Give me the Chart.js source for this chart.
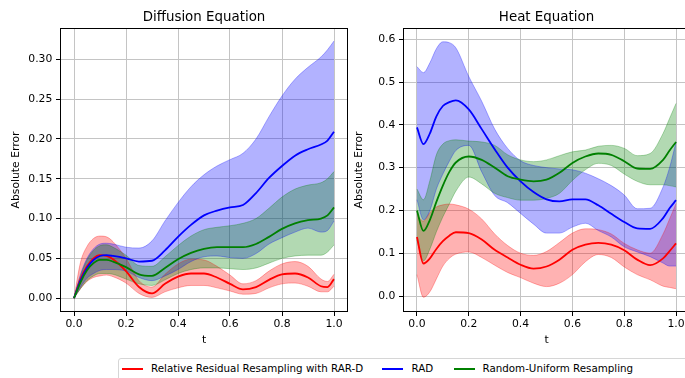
<!DOCTYPE html>
<html>
<head>
<meta charset="utf-8">
<script src="https://cdn.jsdelivr.net/npm/chart.js@4.4.1/dist/chart.umd.min.js"></script>
<style>
html,body{margin:0;padding:0;background:#fff;overflow:hidden;width:685px;height:378px;}
#wrap{position:relative;width:685px;height:378px;overflow:hidden;font-family:"DejaVu Sans",sans-serif;}
canvas{position:absolute;top:0;}
#c1{left:0;}
#c2{left:343px;}
#legend{position:absolute;left:118px;top:358px;width:620px;height:30px;border:1px solid #d6d6d6;border-radius:3px;background:#fff;box-sizing:border-box;}
.lg-line{position:absolute;top:8.5px;height:0;border-top:2px solid #000;}
.lg-text{position:absolute;top:3px;font-size:10.3px;line-height:13px;color:#000;white-space:nowrap;}
</style>
</head>
<body>
<div id="wrap">
  <canvas id="c1" width="350" height="352"></canvas>
  <canvas id="c2" width="352" height="352"></canvas>
  <div id="legend"></div>
</div>
<script>
// ---------------- data ----------------
const tGrid = [0, 0.025, 0.05, 0.075, 0.1, 0.125, 0.15, 0.2, 0.25, 0.3, 0.35, 0.4, 0.45, 0.5, 0.55, 0.6, 0.65, 0.7, 0.75, 0.8, 0.85, 0.9, 0.95, 0.975, 1.0];
const xTicks = [0, 0.2, 0.4, 0.6, 0.8, 1.0];
const diffYTicks = [0, 0.05, 0.10, 0.15, 0.20, 0.25, 0.30];
const heatYTicks = [0, 0.1, 0.2, 0.3, 0.4, 0.5, 0.6];
const seriesNames = ["Relative Residual Resampling with RAR-D", "RAD", "Random-Uniform Resampling"];
const chartTitles = ["Diffusion Equation", "Heat Equation"];

// Diffusion equation
const diffRarMean = [0, 0.024, 0.040, 0.050, 0.054, 0.053, 0.049, 0.034, 0.014, 0.006, 0.018, 0.027, 0.031, 0.031, 0.026, 0.018, 0.011, 0.014, 0.023, 0.030, 0.031, 0.026, 0.015, 0.014, 0.024];
const diffRarLow  = [0, 0.012, 0.021, 0.026, 0.028, 0.029, 0.027, 0.019, 0.006, 0.001, 0.008, 0.013, 0.016, 0.016, 0.013, 0.009, 0.005, 0.006, 0.013, 0.018, 0.019, 0.015, 0.008, 0.008, 0.015];
const diffRarHigh = [0, 0.045, 0.065, 0.075, 0.078, 0.077, 0.071, 0.050, 0.022, 0.014, 0.030, 0.043, 0.049, 0.048, 0.040, 0.029, 0.018, 0.022, 0.034, 0.043, 0.046, 0.040, 0.024, 0.021, 0.030];

const diffRadMean = [0, 0.022, 0.038, 0.048, 0.053, 0.054, 0.053, 0.050, 0.046, 0.047, 0.060, 0.077, 0.092, 0.104, 0.110, 0.114, 0.117, 0.132, 0.151, 0.166, 0.179, 0.187, 0.193, 0.198, 0.209];
const diffRadLow  = [0, 0.014, 0.025, 0.031, 0.035, 0.036, 0.036, 0.034, 0.026, 0.022, 0.028, 0.036, 0.046, 0.052, 0.053, 0.051, 0.050, 0.056, 0.068, 0.076, 0.083, 0.088, 0.083, 0.085, 0.097];
const diffRadHigh = [0, 0.030, 0.050, 0.062, 0.068, 0.069, 0.068, 0.064, 0.063, 0.072, 0.097, 0.120, 0.140, 0.155, 0.166, 0.174, 0.182, 0.200, 0.228, 0.254, 0.275, 0.290, 0.303, 0.312, 0.323];

const diffUniMean = [0, 0.020, 0.035, 0.044, 0.048, 0.048, 0.046, 0.039, 0.030, 0.028, 0.038, 0.049, 0.057, 0.062, 0.064, 0.064, 0.064, 0.068, 0.077, 0.087, 0.094, 0.098, 0.100, 0.104, 0.114];
const diffUniLow  = [0, 0.012, 0.022, 0.028, 0.031, 0.031, 0.030, 0.024, 0.018, 0.016, 0.023, 0.031, 0.036, 0.038, 0.038, 0.037, 0.036, 0.038, 0.044, 0.050, 0.053, 0.054, 0.054, 0.058, 0.067];
const diffUniHigh = [0, 0.028, 0.048, 0.060, 0.066, 0.067, 0.064, 0.054, 0.041, 0.040, 0.052, 0.066, 0.078, 0.086, 0.089, 0.091, 0.094, 0.100, 0.113, 0.127, 0.137, 0.142, 0.145, 0.150, 0.159];

// Heat equation
const heatRarMean = [0.138, 0.076, 0.088, 0.110, 0.128, 0.141, 0.149, 0.147, 0.132, 0.108, 0.090, 0.073, 0.064, 0.069, 0.085, 0.108, 0.120, 0.124, 0.120, 0.107, 0.085, 0.072, 0.088, 0.105, 0.123];
const heatRarLow  = [0.050, -0.003, 0.010, 0.040, 0.070, 0.088, 0.098, 0.103, 0.090, 0.072, 0.055, 0.043, 0.030, 0.022, 0.030, 0.050, 0.080, 0.097, 0.090, 0.068, 0.050, 0.038, 0.023, 0.020, 0.017];
const heatRarHigh = [0.190, 0.175, 0.195, 0.208, 0.213, 0.215, 0.213, 0.203, 0.180, 0.145, 0.118, 0.100, 0.095, 0.104, 0.125, 0.147, 0.157, 0.155, 0.145, 0.123, 0.108, 0.100, 0.145, 0.180, 0.216];

const heatRadMean = [0.394, 0.355, 0.380, 0.420, 0.444, 0.453, 0.457, 0.436, 0.390, 0.343, 0.300, 0.268, 0.243, 0.226, 0.221, 0.226, 0.226, 0.212, 0.192, 0.173, 0.158, 0.157, 0.182, 0.205, 0.224];
const heatRadLow  = [0.225, 0.178, 0.200, 0.250, 0.285, 0.315, 0.340, 0.352, 0.290, 0.235, 0.218, 0.193, 0.168, 0.147, 0.147, 0.161, 0.170, 0.153, 0.138, 0.115, 0.103, 0.092, 0.077, 0.070, 0.070];
const heatRadHigh = [0.536, 0.522, 0.545, 0.578, 0.594, 0.592, 0.580, 0.513, 0.455, 0.390, 0.345, 0.316, 0.305, 0.300, 0.297, 0.295, 0.287, 0.274, 0.258, 0.236, 0.204, 0.205, 0.255, 0.300, 0.360];

const heatUniMean = [0.200, 0.152, 0.178, 0.220, 0.258, 0.290, 0.312, 0.326, 0.318, 0.300, 0.280, 0.272, 0.268, 0.272, 0.288, 0.311, 0.326, 0.333, 0.330, 0.315, 0.298, 0.297, 0.318, 0.340, 0.360];
const heatUniLow  = [0.130, 0.082, 0.110, 0.150, 0.185, 0.215, 0.245, 0.278, 0.262, 0.240, 0.230, 0.224, 0.224, 0.228, 0.240, 0.270, 0.295, 0.310, 0.305, 0.285, 0.268, 0.260, 0.260, 0.258, 0.255];
const heatUniHigh = [0.250, 0.225, 0.270, 0.330, 0.355, 0.363, 0.365, 0.362, 0.360, 0.352, 0.330, 0.318, 0.314, 0.318, 0.328, 0.337, 0.341, 0.350, 0.352, 0.345, 0.328, 0.333, 0.380, 0.415, 0.450];

// ---------------- styling ----------------
const FONT = "DejaVu Sans";
const lineColors = ["#ff0000", "#0000ff", "#008000"];
const fillColors = ["rgba(255,0,0,0.3)", "rgba(0,0,255,0.3)", "rgba(0,128,0,0.3)"];
const gridColor = "#c4c4c4";

function pts(arr) { return tGrid.map((t, i) => ({x: t, y: arr[i]})); }

const framePlugin = {
  id: 'frame',
  afterDatasetsDraw(chart) {
    const {ctx, chartArea: a} = chart;
    ctx.save();
    ctx.strokeStyle = '#000';
    ctx.lineWidth = 1;
    ctx.strokeRect(Math.round(a.left) - 0.5, Math.round(a.top) - 0.5, Math.round(a.right - a.left) + 1, Math.round(a.bottom - a.top) + 1);
    ctx.restore();
  }
};

function makeChart(id, title, series, yMin, yMax, yTicks, yDigits, rightPad) {
  const datasets = [];
  // bands: green first (drawn on top), then blue, then red (drawn at bottom)
  [2, 1, 0].forEach(k => {
    const [mean, low, high] = series[k];
    datasets.push({data: pts(low), borderColor: fillColors[k], borderWidth: 1, backgroundColor: fillColors[k], fill: false, order: 10, pointRadius: 0});
    datasets.push({data: pts(high), borderColor: fillColors[k], borderWidth: 1, backgroundColor: fillColors[k], fill: '-1', order: 10, pointRadius: 0});
  });
  [2, 1, 0].forEach(k => {
    datasets.push({data: pts(series[k][0]), borderColor: lineColors[k], borderWidth: 1.8, fill: false, order: 0, pointRadius: 0});
  });
  const tickFont = {family: FONT, size: 10.8};
  return new Chart(document.getElementById(id), {
    type: 'line',
    data: {datasets},
    options: {
      responsive: false,
      animation: false,
      devicePixelRatio: 1,
      layout: {padding: {left: 0, right: rightPad, top: 0, bottom: 0}},
      elements: {point: {radius: 0, hoverRadius: 0}, line: {cubicInterpolationMode: 'monotone'}},
      plugins: {
        legend: {display: false},
        tooltip: {enabled: false},
        filler: {drawTime: 'beforeDatasetsDraw', propagate: false},
        title: {display: true, text: title, fullSize: false, color: '#000',
                font: {family: FONT, size: 13.4, weight: 'normal'}, padding: {top: 9.0, bottom: 3.9}}
      },
      scales: {
        x: {
          type: 'linear', min: -0.05, max: 1.05,
          afterBuildTicks: s => { s.ticks = xTicks.map(v => ({value: v})); },
          afterFit: s => { s.height = 41; },
          ticks: {callback: v => Number(v).toFixed(1), color: '#000', font: tickFont, padding: 2, maxRotation: 0, autoSkip: false},
          grid: {color: gridColor, lineWidth: 1, tickLength: 5, tickColor: '#000', drawTicks: true},
          border: {display: false},
          title: {display: true, text: 't', color: '#000', font: tickFont, padding: {top: 0, bottom: 5}}
        },
        y: {
          type: 'linear', min: yMin, max: yMax,
          afterBuildTicks: s => { s.ticks = yTicks.map(v => ({value: v})); },
          afterFit: s => { s.width = 61; },
          ticks: {callback: v => Number(v).toFixed(yDigits), color: '#000', font: tickFont, padding: 3.7, autoSkip: false},
          grid: {color: gridColor, lineWidth: 1, tickLength: 5, tickColor: '#000', drawTicks: true},
          border: {display: false},
          title: {display: true, text: 'Absolute Error', color: '#000', font: tickFont, padding: {top: 10.2, bottom: 0}}
        }
      }
    },
    plugins: [framePlugin]
  });
}

makeChart('c1', chartTitles[0], [
  [diffRarMean, diffRarLow, diffRarHigh],
  [diffRadMean, diffRadLow, diffRadHigh],
  [diffUniMean, diffUniLow, diffUniHigh]
], -0.0161, 0.3381, diffYTicks, 2, 3);

makeChart('c2', chartTitles[1], [
  [heatRarMean, heatRarLow, heatRarHigh],
  [heatRadMean, heatRadLow, heatRadHigh],
  [heatUniMean, heatUniLow, heatUniHigh]
], -0.035, 0.624, heatYTicks, 1, 6);

// ---------------- legend ----------------
const legendPos = [[3, 32], [263, 292.5], [334.5, 363.5]];
const lg = document.getElementById('legend');
seriesNames.forEach((name, i) => {
  const ln = document.createElement('div');
  ln.className = 'lg-line';
  ln.style.left = legendPos[i][0] + 'px';
  ln.style.width = '21px';
  ln.style.borderTopColor = lineColors[i];
  lg.appendChild(ln);
  const tx = document.createElement('div');
  tx.className = 'lg-text';
  tx.style.left = legendPos[i][1] + 'px';
  tx.textContent = name;
  lg.appendChild(tx);
});
</script>
</body>
</html>
